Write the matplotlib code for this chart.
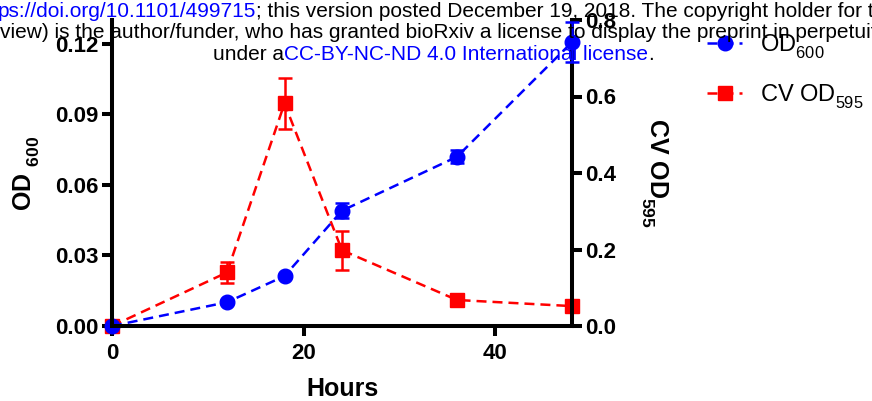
import matplotlib
matplotlib.use("Agg")
import matplotlib.pyplot as plt
import matplotlib._mathtext as mathtext
from matplotlib.lines import Line2D

hours = [0, 12, 18, 24, 36, 48]
od600 = [0.0, 0.0101, 0.0212, 0.0490, 0.0719, 0.1206]
od600_err = [0.0, 0.0008, 0.0008, 0.0033, 0.0028, 0.0085]
cv595 = [0.0, 0.140, 0.582, 0.198, 0.068, 0.052]
cv595_err = [0.0, 0.027, 0.067, 0.051, 0.015, 0.012]

x_ticks = [0, 20, 40]
left_ticks = [0.0, 0.03, 0.06, 0.09, 0.12]
right_ticks = [0.0, 0.2, 0.4, 0.6, 0.8]

W, H = 872, 401
BLUE = "#0000ff"
RED = "#ff0000"

plt.rcParams["font.family"] = ["Liberation Sans", "DejaVu Sans"]
plt.rcParams["mathtext.default"] = "regular"


# deeper subscripts, like the original figure
class DeepSub(mathtext.FontConstantsBase):
    sub1 = 0.6


mathtext._font_constant_mapping["Liberation Sans"] = DeepSub

fig = plt.figure(figsize=(W / 100, H / 100), dpi=100)
ax = fig.add_axes([112 / W, 1 - 326 / H, (572 - 112) / W, (326 - 20) / H])
ax2 = ax.twinx()
ax.set_zorder(ax2.get_zorder() + 1)
ax.patch.set_visible(False)

dash = (0, (4, 2.4))
ax2.errorbar(hours, cv595, yerr=cv595_err, color=RED, ls=dash, lw=1.8,
             marker="s", ms=10, elinewidth=1.8, capsize=5, capthick=1.8,
             clip_on=False)
ax.errorbar(hours, od600, yerr=od600_err, color=BLUE, ls=dash, lw=1.8,
            marker="o", ms=10.5, elinewidth=1.8, capsize=5, capthick=1.8,
            clip_on=False)

ax.set_xlim(0, 48)
ax.set_ylim(0, 0.13)
ax2.set_ylim(0, 0.8)
ax.set_xticks(x_ticks)
ax.set_yticks(left_ticks)
ax.set_yticklabels(["%.2f" % v for v in left_ticks])
ax2.set_yticks(right_ticks)
ax2.set_yticklabels(["%.1f" % v for v in right_ticks])

for a in (ax, ax2):
    for s in a.spines.values():
        s.set_linewidth(2.9)
    a.tick_params(width=2.9, length=7.5, labelsize=16, pad=2)
    for lab in a.get_xticklabels() + a.get_yticklabels():
        lab.set_fontweight("bold")
ax.tick_params(axis="x", pad=5)
ax.spines["top"].set_visible(False)
ax.spines["right"].set_visible(False)
ax2.spines["top"].set_visible(False)
ax2.spines["left"].set_visible(False)
ax2.spines["bottom"].set_visible(False)

ax.set_xlabel("Hours", fontsize=18, fontweight="bold", labelpad=9)
ax.set_ylabel(r"OD $_{600}$", fontsize=18, fontweight="bold", labelpad=10)
ax2.set_ylabel(r"CV OD$_{595}$", fontsize=18, fontweight="bold",
               rotation=-90, labelpad=38)

handles = [
    Line2D([], [], color=BLUE, ls=dash, lw=1.8, marker="o", ms=10.5),
    Line2D([], [], color=RED, ls=dash, lw=1.8, marker="s", ms=10),
]
fig.legend(handles, [r"OD$_{600}$", r"CV OD$_{595}$"], loc="upper left",
           bbox_to_anchor=(707 / W, 1 - 32 / H), frameon=False, fontsize=17,
           handlelength=1.5, handletextpad=0.75, labelspacing=0.9,
           borderpad=0, borderaxespad=0)

# bioRxiv header overlay
renderer = fig.canvas.get_renderer()


def put_line(x, y, pieces):
    for txt, col in pieces:
        t = fig.text(x / W, 1 - y / H, txt, color=col, fontsize=15,
                     ha="left", va="baseline", zorder=10)
        x += t.get_window_extent(renderer).width


put_line(-2, 17, [("ps://doi.org/10.1101/499715", BLUE),
                  ("; this version posted December 19, 2018. The copyright holder for this preprint", "black")])
put_line(0, 38, [("view) is the author/funder, who has granted bioRxiv a license to display the preprint in perpetuity.", "black")])
put_line(213, 60, [("under a", "black"),
                   ("CC-BY-NC-ND 4.0 International license", BLUE),
                   (".", "black")])

fig.savefig("out.png", dpi=100)
